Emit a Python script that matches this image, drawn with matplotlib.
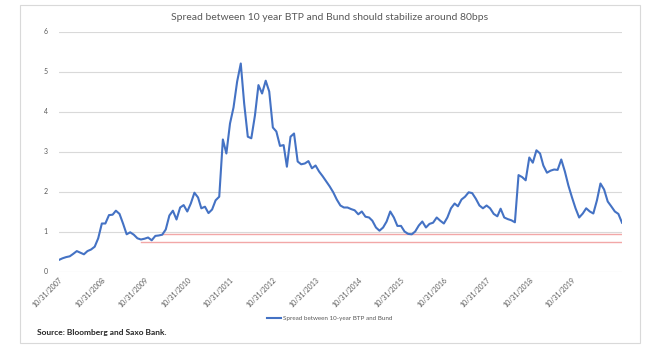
import matplotlib
matplotlib.use("Agg")
import matplotlib.pyplot as plt
import matplotlib.dates as mdates
import pandas as pd
from matplotlib.patches import Rectangle

plt.rcParams['font.family'] = ['Lato', 'DejaVu Sans']

# Monthly spread (percentage points), Oct 2007 - Dec 2020
dates = pd.date_range("2007-10-31", periods=159, freq="ME")
spread = [
    0.29, 0.33, 0.36, 0.38, 0.44, 0.51, 0.47, 0.43, 0.51, 0.55,
    0.62, 0.83, 1.20, 1.20, 1.41, 1.42, 1.52, 1.44, 1.20, 0.93,
    0.98, 0.92, 0.83, 0.80, 0.82, 0.85, 0.78, 0.89, 0.90, 0.92,
    1.05, 1.40, 1.52, 1.30, 1.60, 1.66, 1.50, 1.70, 1.97, 1.85,
    1.58, 1.62, 1.46, 1.55, 1.78, 1.87, 3.30, 2.95, 3.70, 4.10,
    4.75, 5.20, 4.20, 3.37, 3.33, 3.90, 4.66, 4.45, 4.77, 4.50,
    3.60, 3.50, 3.14, 3.16, 2.62, 3.37, 3.45, 2.75, 2.68, 2.70,
    2.76, 2.58, 2.65, 2.50, 2.38, 2.25, 2.13, 1.98, 1.80, 1.65,
    1.60, 1.60, 1.56, 1.53, 1.43, 1.50, 1.37, 1.35, 1.27, 1.10,
    1.02, 1.10, 1.25, 1.50, 1.35, 1.14, 1.14, 1.00, 0.94, 0.93,
    1.00, 1.15, 1.25, 1.10, 1.19, 1.22, 1.35, 1.27, 1.20, 1.35,
    1.58, 1.70, 1.63, 1.80, 1.87, 1.98, 1.96, 1.82, 1.65, 1.58,
    1.65, 1.58, 1.44, 1.38, 1.57, 1.35, 1.31, 1.28, 1.23, 2.41,
    2.36, 2.28, 2.85, 2.72, 3.03, 2.95, 2.65, 2.47, 2.52, 2.55,
    2.54, 2.80, 2.50, 2.15, 1.85, 1.58, 1.35, 1.45, 1.58, 1.50,
    1.45, 1.78, 2.20, 2.05, 1.75, 1.63, 1.50, 1.44, 1.22,
]

# Reference levels (red lines): level and start date
ref_levels = [0.93, 0.75]
ref_starts = ["2010-03-31", "2009-09-30"]

tick_dates = pd.date_range("2007-10-31", "2019-10-31", freq="12ME")
tick_dates = [pd.Timestamp(f"{y}-10-31") for y in range(2007, 2020)]
tick_labels = [d.strftime("%m/%d/%Y").replace("/0", "/").lstrip("0") for d in tick_dates]

title = "Spread between 10 year BTP and Bund should stabilize around 80bps"
series_name = "Spread between 10-year BTP and Bund"
source = "Source: Bloomberg and Saxo Bank."

W, H = 660, 349
fig = plt.figure(figsize=(W / 100, H / 100), dpi=100)
fig.patch.set_facecolor("white")

# outer frame
fig.patches.append(Rectangle((20 / W, 1 - 343 / H), 620 / W, 338 / H,
                             transform=fig.transFigure, fill=False,
                             edgecolor="#D9D9D9", linewidth=0.8))

ax = fig.add_axes([59 / W, 1 - 271.5 / H, (622 - 59) / W, 240 / H])
ax.plot(dates, spread, color="#4472C4", linewidth=1.5, label=series_name,
        solid_joinstyle="round", zorder=3)
for lvl, st in zip(ref_levels, ref_starts):
    ax.plot([pd.Timestamp(st), dates[-1]], [lvl, lvl], color="#F2A7A7",
            linewidth=1.0, zorder=2)

ax.set_xlim(dates[0], dates[-1])
ax.set_ylim(0, 6)
ax.set_yticks(range(0, 7))
ax.yaxis.grid(True, color="#D9D9D9", linewidth=0.8)
ax.set_axisbelow(True)
for s in ax.spines.values():
    s.set_visible(False)
ax.tick_params(axis="both", length=0, colors="#595959", labelsize=5)
ax.tick_params(axis="y", pad=8)
ax.set_xticks(tick_dates)
ax.set_xticklabels(tick_labels, rotation=45, ha="right", rotation_mode="anchor",
                   fontsize=5, color="#595959")

fig.text(0.5, 1 - 17 / H, title, ha="center", va="center", fontsize=7.5,
         color="#595959")

leg = fig.legend(loc="center", bbox_to_anchor=(0.5, 1 - 318 / H), frameon=False,
                 fontsize=4.5, handlelength=2.2, handletextpad=0.4)
for t in leg.get_texts():
    t.set_color("#595959")

fig.text(37 / W, 1 - 333 / H, source, ha="left", va="center", fontsize=6,
         color="#262626", fontweight="bold")

fig.savefig("out.png", dpi=100)
